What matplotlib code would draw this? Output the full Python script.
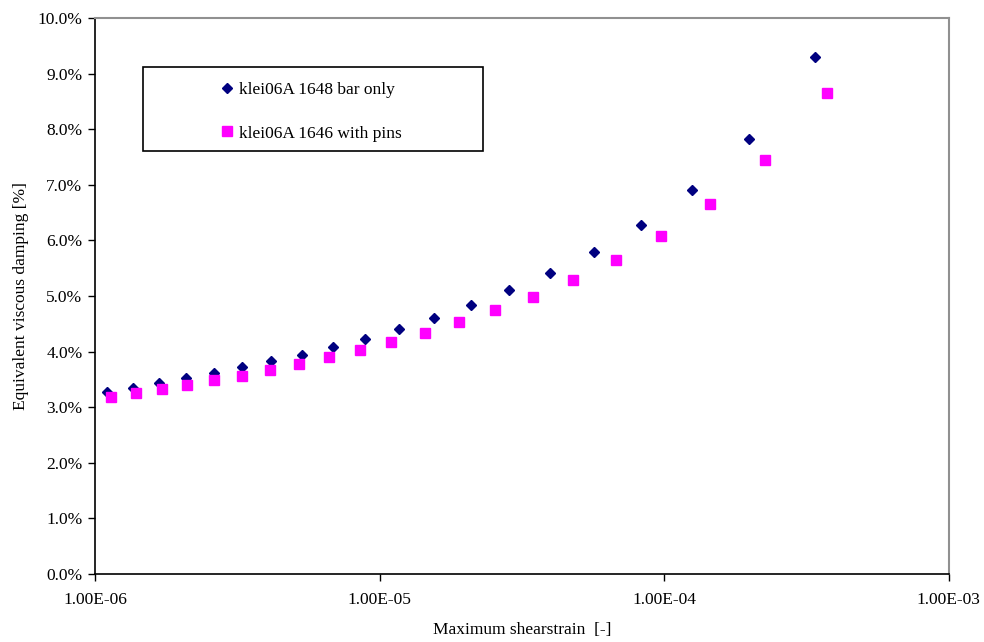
import matplotlib
matplotlib.use("Agg")
from matplotlib import pyplot as plt
from matplotlib.patches import Rectangle
from matplotlib.ticker import FuncFormatter, FixedLocator, NullLocator

# Damping vs shear strain, two test series
strain_bar = [1.105e-6, 1.357e-6, 1.679e-6, 2.089e-6, 2.615e-6, 3.296e-6, 4.167e-6,
              5.343e-6, 6.885e-6, 8.902e-6, 1.175e-5, 1.556e-5, 2.094e-5, 2.862e-5,
              3.98e-5, 5.67e-5, 8.295e-5, 1.256e-4, 1.982e-4, 3.394e-4]
damping_bar = [3.27, 3.35, 3.43, 3.52, 3.61, 3.72, 3.83, 3.94, 4.08, 4.23,
               4.41, 4.60, 4.83, 5.10, 5.41, 5.79, 6.28, 6.91, 7.83, 9.29]

strain_pins = [1.138e-6, 1.394e-6, 1.716e-6, 2.111e-6, 2.627e-6, 3.28e-6, 4.115e-6,
               5.203e-6, 6.632e-6, 8.524e-6, 1.101e-5, 1.443e-5, 1.900e-5, 2.550e-5,
               3.459e-5, 4.783e-5, 6.753e-5, 9.75e-5, 1.454e-4, 2.263e-4, 3.749e-4]
damping_pins = [3.18, 3.25, 3.32, 3.40, 3.49, 3.57, 3.67, 3.78, 3.90, 4.03,
                4.18, 4.34, 4.53, 4.75, 4.99, 5.29, 5.64, 6.08, 6.66, 7.45, 8.65]

labels = ['klei06A 1648 bar only', 'klei06A 1646 with pins']
x_ticks = [1e-6, 1e-5, 1e-4, 1e-3]
y_ticks = [0, 1, 2, 3, 4, 5, 6, 7, 8, 9, 10]

plt.rcParams['font.family'] = ['Liberation Serif', 'DejaVu Serif']
plt.rcParams['font.size'] = 12.5

fig = plt.figure(figsize=(9.84, 6.42), dpi=100)
ax = fig.add_axes([0.0965, 0.1059, 0.8676, 0.8661])

ax.plot(strain_bar, damping_bar, linestyle='none', marker='D', markersize=5.5,
        color='#000080', label=labels[0])
ax.plot(strain_pins, damping_pins, linestyle='none', marker='s', markersize=6.6,
        color='#ff00ff', label=labels[1])

ax.set_xscale('log')
ax.set_xlim(1e-6, 1e-3)
ax.set_ylim(0, 10)
ax.xaxis.set_major_locator(FixedLocator(x_ticks))
ax.xaxis.set_minor_locator(NullLocator())
ax.xaxis.set_major_formatter(FuncFormatter(lambda v, p: '%.2E' % v))
ax.yaxis.set_major_locator(FixedLocator(y_ticks))
ax.yaxis.set_major_formatter(FuncFormatter(lambda v, p: '%.1f%%' % v))
ax.tick_params(direction='out', length=5, width=1, color='black', pad=4)
ax.tick_params(axis='x', pad=8)

for side in ['left', 'bottom']:
    ax.spines[side].set_color('black')
    ax.spines[side].set_linewidth(1.2)
for side in ['top', 'right']:
    ax.spines[side].set_color('#909090')
    ax.spines[side].set_linewidth(1.5)

ax.set_xlabel('Maximum shearstrain  [-]', labelpad=10)
ax.set_ylabel('Equivalent viscous damping [%]', labelpad=6)

# legend frame drawn separately, entries centred inside it
box = Rectangle((142.7 / 984, 1 - 151 / 642), 340 / 984, 84.3 / 642,
                transform=fig.transFigure, facecolor='white', edgecolor='black',
                linewidth=1.2, zorder=5, clip_on=False)
ax.add_patch(box)
leg = ax.legend(loc='center', bbox_to_anchor=(311.5 / 984, 1 - 111.5 / 642),
                bbox_transform=fig.transFigure, frameon=False, labelspacing=1.6,
                handlelength=0.6, handletextpad=0.4, borderpad=0, fontsize=12.5)
leg.set_zorder(6)

plt.savefig('out.png', dpi=100)
